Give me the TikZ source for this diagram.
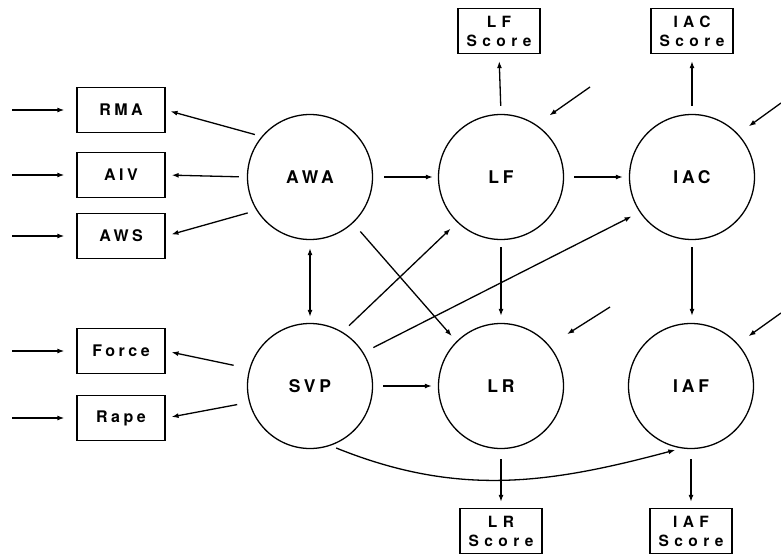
\documentclass[tikz,border=0pt]{standalone}
\usepackage{fontspec}
\usepackage{tikz}
\usetikzlibrary{arrows.meta}
\newfontfamily\lblfont{TeX Gyre Heros}[LetterSpace=22]
\newfontfamily\scorefont{TeX Gyre Heros}[LetterSpace=35]
\tikzset{
  latent/.style ={circle, draw, line width=1.3pt, minimum size=125pt, inner sep=0pt,
                  font=\lblfont\bfseries\fontsize{17.5}{19}\selectfont},
  obs/.style    ={rectangle, draw, line width=1.3pt, minimum width=88pt, minimum height=45pt,
                  inner sep=2pt, align=center, font=\lblfont\bfseries\fontsize{16}{18}\selectfont},
  score/.style  ={obs, minimum width=82pt, font=\scorefont\bfseries\fontsize{15.5}{19}\selectfont},
  ar/.style     ={-{Latex[length=7pt,width=5pt]}, line width=1.3pt},
  dar/.style    ={{Latex[length=7pt,width=5pt]}-{Latex[length=7pt,width=5pt]}, line width=1.3pt},
}
\begin{document}
\begin{tikzpicture}[x=1pt,y=-1pt]
\useasboundingbox (0,0) rectangle (781,554);
% latent variables
\node[latent] (AWA) at (310,177) {AWA};
\node[latent] (LF)  at (501,177) {LF};
\node[latent] (IAC) at (692,177) {IAC};
\node[latent] (SVP) at (310,386) {SVP};
\node[latent] (LR)  at (501,386) {LR};
\node[latent] (IAF) at (691,386) {IAF};
% indicators
\node[obs] (RMA)   at (121,110) {RMA};
\node[obs] (AIV)   at (121,175) {AIV};
\node[obs] (AWS)   at (121,236) {AWS};
\node[obs] (Force) at (121,351) {Force};
\node[obs] (Rape)  at (121,418) {Rape};
\node[score] (LFs)  at (499,31)  {LF\\Score};
\node[score] (IACs) at (692,31)  {IAC\\Score};
\node[score] (LRs)  at (501,531) {LR\\Score};
\node[score] (IAFs) at (691,531) {IAF\\Score};
% error terms
\foreach \b in {RMA,AIV,AWS,Force,Rape}{
  \coordinate (e\b) at (12,0 |- \b.west);
  \draw[ar,shorten >=12pt] (e\b) -- (\b.west);
}
\coordinate (dLF)  at (590,87);
\coordinate (dIAC) at (781,103);
\coordinate (dLR)  at (610,307);
\coordinate (dIAF) at (781,313);
\draw[ar,shorten >=16pt] (dLF) -- (LF.56);
\draw[ar,shorten >=13pt] (dIAC) -- (IAC.43);
\draw[ar,shorten >=21pt] (dLR) -- (LR.40);
\draw[ar,shorten >=13pt] (dIAF) -- (IAF.42);
% measurement paths
\draw[ar,shorten <=7pt,shorten >=5pt]  (AWA.140) -- (RMA.east);
\draw[ar,shorten <=8pt,shorten >=6pt]  (AWA.west) -- (AIV.east);
\draw[ar,shorten <=9pt,shorten >=6pt]  (AWA.212) -- (AWS.east);
\draw[ar,shorten <=16pt,shorten >=6pt] (SVP.164) -- (Force.east);
\draw[ar,shorten <=12pt,shorten >=6pt] (SVP.195) -- (Rape.east);
\draw[ar,shorten <=8pt,shorten >=7pt]  (LF.north) -- (LFs.south);
\draw[ar,shorten <=8pt,shorten >=7pt]  (IAC.north) -- (IACs.south);
\draw[ar,shorten <=10pt,shorten >=6pt] (LR.south) -- (LRs.north);
\draw[ar,shorten <=10pt,shorten >=6pt] (IAF.south) -- (IAFs.north);
% structural paths
\draw[dar,shorten <=8pt,shorten >=6pt]  (AWA.south) -- (SVP.north);
\draw[ar,shorten <=11pt,shorten >=5pt]  (AWA.east) -- (LF.west);
\draw[ar,shorten <=10pt,shorten >=6pt]  (LF.east) -- (IAC.west);
\draw[ar,shorten <=7pt,shorten >=7pt]   (LF.south) -- (LR.north);
\draw[ar,shorten <=7pt,shorten >=7pt]   (IAC.south) -- (IAF.north -| IAC.south);
\draw[ar,shorten <=11pt,shorten >=7pt]  (AWA.-47) -- (LR.135);
\draw[ar,shorten <=9pt,shorten >=9pt]   (SVP.59) -- (LF.226);
\draw[ar,shorten <=11pt,shorten >=9pt]  (SVP.32) -- (IAC.214);
\draw[ar,shorten <=10pt,shorten >=6pt]  (SVP.east) -- (LR.west);
\draw[ar,shorten <=6pt,shorten >=6pt]   (SVP.-71) to[out=-22,in=-165] (IAF.261);
\end{tikzpicture}
\end{document}
